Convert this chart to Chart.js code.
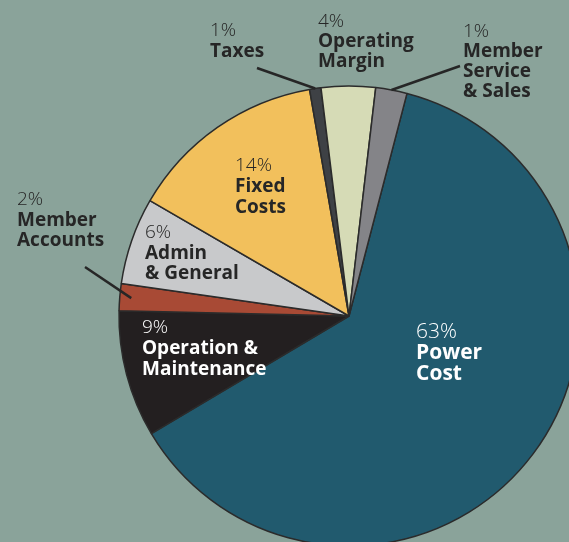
<!DOCTYPE html>
<html>
<head>
<meta charset="utf-8">
<script src="https://cdn.jsdelivr.net/npm/chart.js@4"></script>
<style>
html,body{margin:0;padding:0;background:#8aa39a;overflow:hidden;width:569px;height:542px}
canvas{position:absolute;left:0;top:0}
</style>
</head>
<body>
<canvas id="pie" width="698" height="632"></canvas>
<script>
// slices in drawing order, clockwise from the top
const categories = [
  ["Power","Cost"],
  ["Operation &","Maintenance"],
  ["Member","Accounts"],
  ["Admin","& General"],
  ["Fixed","Costs"],
  ["Taxes"],
  ["Operating","Margin"],
  ["Member","Service","& Sales"]
];
const shares = [62.4, 8.9, 1.9, 6.1, 13.9, 0.8, 3.8, 2.2];
const percentLabels = ["63%","9%","2%","6%","14%","1%","4%","1%"];

const sliceColors = ["#215a6e","#231f20","#a84a35","#c8c9cb","#f2c05c","#3e4145","#d6dbb6","#848488"];

// label placement (left x, centre of first line), text colour, font size, leader end
const labelLayout = [
  {x:416, y:332, color:"#ffffff", size:21, gap:21},
  {x:142, y:328, color:"#ffffff", size:19, gap:21},
  {x:17,  y:200, color:"#262626", size:19, gap:20.5, leader:[85,267], inner:0.95},
  {x:145, y:233, color:"#262626", size:19, gap:20.5},
  {x:235, y:166, color:"#262626", size:19, gap:21},
  {x:210, y:31,  color:"#262626", size:19, gap:20.5, leader:[257,68], inner:1},
  {x:318, y:22,  color:"#262626", size:19, gap:20},
  {x:463, y:32,  color:"#262626", size:19, gap:20, leader:[460,66], inner:1}
];

const labelPlugin = {
  id:"labels",
  afterDraw(chart){
    const c = chart.ctx;
    const arcs = chart.getDatasetMeta(0).data;
    c.save();
    labelLayout.forEach(function(l,i){
      if(l.leader){
        const a = arcs[i];
        const mid = (a.startAngle + a.endAngle)/2;
        const r = a.outerRadius*l.inner;
        c.beginPath();
        c.moveTo(a.x + Math.cos(mid)*r, a.y + Math.sin(mid)*r);
        c.lineTo(l.leader[0], l.leader[1]);
        c.lineWidth = 2.5;
        c.strokeStyle = "#262626";
        c.stroke();
      }
      c.fillStyle = l.color;
      c.textAlign = "left";
      c.textBaseline = "middle";
      c.font = "300 " + l.size + "px 'Open Sans'";
      c.fillText(percentLabels[i], l.x, l.y);
      c.font = "700 " + l.size + "px 'Open Sans'";
      categories[i].forEach(function(line,k){
        c.fillText(line, l.x, l.y + l.gap*(k+1));
      });
    });
    c.restore();
  }
};

new Chart(document.getElementById("pie"),{
  type:"pie",
  data:{
    labels:categories.map(function(c){return c.join(" ");}),
    datasets:[{
      data:shares,
      backgroundColor:sliceColors,
      borderColor:"#2b2b2b",
      borderWidth:1.5
    }]
  },
  options:{
    responsive:false,
    animation:false,
    devicePixelRatio:1,
    radius:230,
    rotation:14.6,
    layout:{padding:0},
    plugins:{legend:{display:false},tooltip:{enabled:false}}
  },
  plugins:[labelPlugin]
});
</script>
</body>
</html>
